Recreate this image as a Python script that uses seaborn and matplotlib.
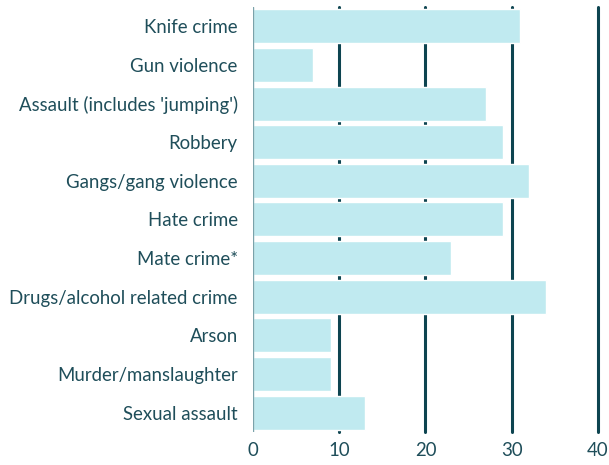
import pandas as pd
import seaborn as sns
import matplotlib.pyplot as plt

categories = ["Knife crime", "Gun violence", "Assault (includes 'jumping')", "Robbery",
              "Gangs/gang violence", "Hate crime", "Mate crime*",
              "Drugs/alcohol related crime", "Arson", "Murder/manslaughter", "Sexual assault"]
values = [31, 7, 27, 29, 32, 29, 23, 34, 9, 9, 13]
x_ticks = [0, 10, 20, 30, 40]

df = pd.DataFrame({"category": categories, "value": values})

sns.set_style("white")
plt.rcParams['font.family'] = ['Lato', 'DejaVu Sans']

text_col = "#1f4e5a"
line_col = "#0d4450"

fig = plt.figure(figsize=(6.09, 4.65), dpi=100)
ax = fig.add_axes([0.4154, 0.071, 0.5665, 0.914])

# gridlines behind the bars
for t in x_ticks[1:]:
    ax.axvline(t, color=line_col, lw=2.2, zorder=0, clip_on=False)

sns.barplot(data=df, x="value", y="category", color="#c0eaf0", saturation=1,
            width=0.88, ax=ax, zorder=2)

ax.axvline(0, color="#7aa2aa", lw=1.0, zorder=3)

ax.set_xlim(0, 40)
ax.set_ylim(len(categories) - 0.5, -0.5)
ax.set_xticks(x_ticks)
ax.set_xlabel("")
ax.set_ylabel("")
ax.tick_params(axis="both", length=0, labelsize=13.4, labelcolor=text_col)
ax.tick_params(axis="x", pad=7)
ax.tick_params(axis="y", pad=11)
for s in ax.spines.values():
    s.set_visible(False)

plt.savefig("out.png", dpi=100)
